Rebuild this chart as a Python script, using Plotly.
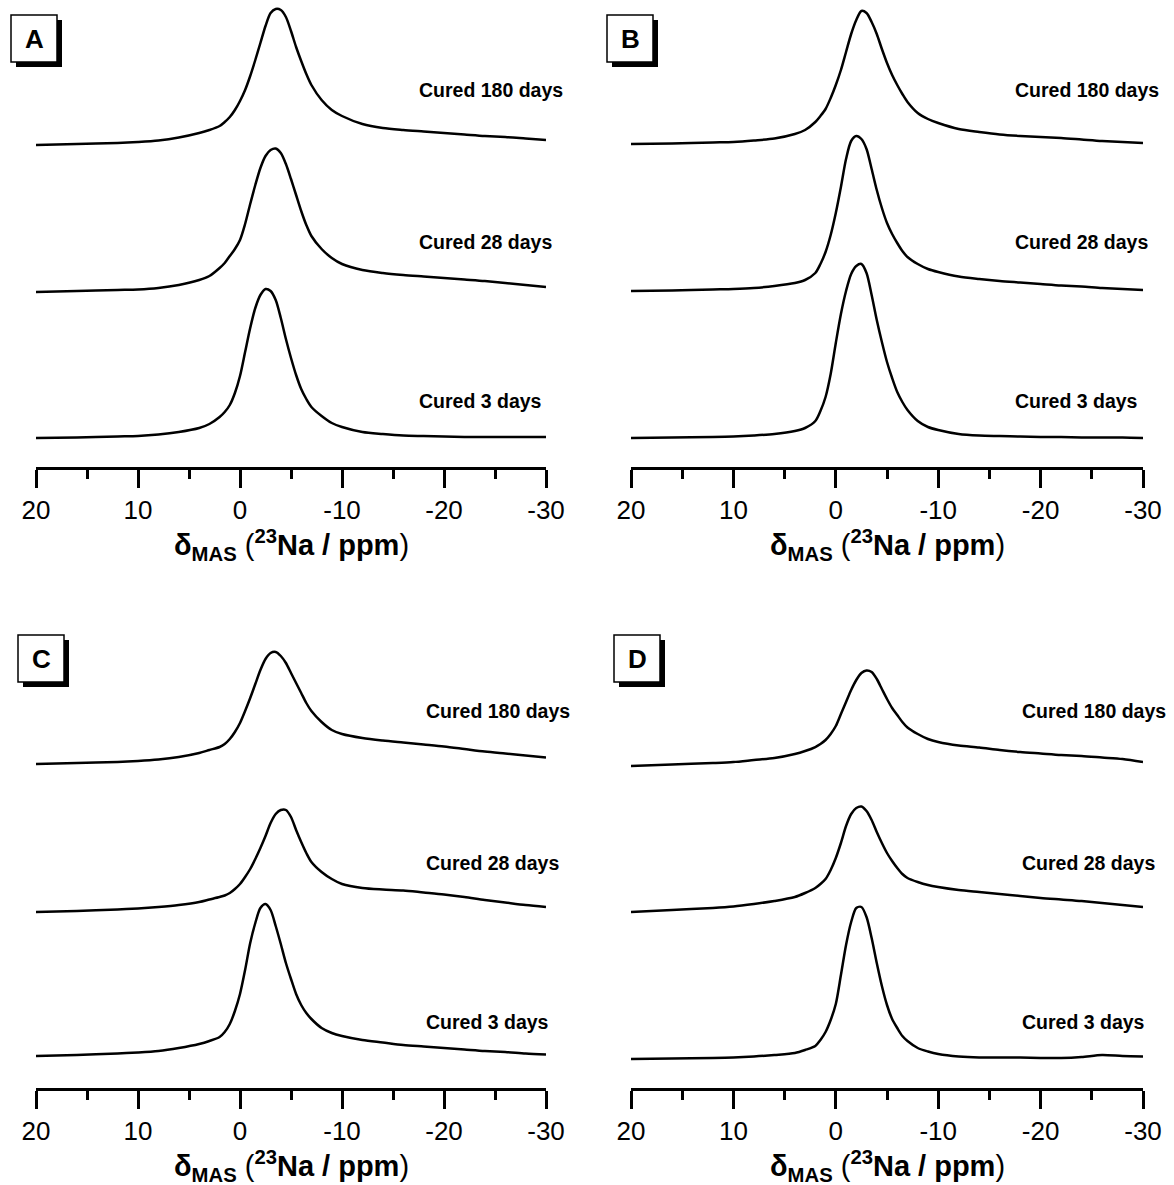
import plotly.graph_objects as go

# ---------------- data ----------------
PPM = [20, 16, 12, 10, 8, 6, 4, 3, 2, 1.5, 1, 0.5, 0, -0.5, -1, -1.5, -2, -2.5, -3, -3.5, -4,
       -4.5, -5, -5.5, -6, -6.5, -7, -8, -9, -10, -12, -14, -16, -18, -20, -22,
       -24, -26, -28, -30]

A_180 = [0, 1, 2, 3, 4.5, 7.5, 12, 15, 19, 23, 28, 35, 44, 55, 69, 85, 102, 119, 132, 136, 135,
         128, 114, 98, 84, 71, 60, 45, 35, 29, 21, 17, 15, 13.5, 12, 10.5, 9, 8, 6.5, 5]
A_28 = [0, 1, 2, 2.5, 4, 7, 12, 16, 24, 29, 36, 43, 52, 68, 88, 107, 124, 136, 142, 143.5, 139,
        128, 113, 97, 81, 67, 56, 43, 34, 28, 22, 19, 17, 15.5, 14, 12.5, 11, 9, 7, 5]
A_3 = [0, 0.5, 1.5, 2, 3.5, 6, 10, 14, 21, 26, 33, 45, 62, 86, 110, 130, 143, 149, 147, 138, 120,
       99, 80, 63, 49, 39, 31, 22, 15, 11, 6, 4, 2.5, 2, 1.5, 1, 1, 1, 1, 1]

B_180 = [0, 0.5, 1.5, 2, 3.5, 5.5, 10, 14, 22, 28, 35, 46, 59, 74, 92, 110, 124, 133, 131, 122, 110,
         95, 81, 69, 59, 50, 42, 31, 25, 21, 15, 12, 9.5, 8, 7, 6, 4.5, 3, 2, 1]
B_28 = [0, 0.5, 1.5, 2, 3, 5, 8, 11, 18, 27, 39, 56, 78, 104, 132, 150, 155, 152, 142, 122, 101,
        83, 68, 57, 48, 40, 34, 27, 22, 19, 14.5, 12, 10, 8.5, 7, 5.5, 4.5, 3, 2, 1]
B_3 = [0, 0.5, 1, 1.5, 2.5, 4, 7, 10, 17, 27, 41, 64, 95, 124, 147, 164, 172, 174, 165, 143, 118,
       96, 76, 60, 46, 36, 28, 17, 11, 8, 4, 2.5, 2, 1.5, 1, 1, 0.5, 0.5, 0.5, 0]

C_180 = [0, 1, 2, 3, 4.5, 7, 11, 14, 17, 20, 25, 32, 41, 53, 66, 80, 94, 105, 111, 112, 108,
         101, 91, 81, 71, 61, 53, 42, 34, 30, 26, 23.5, 21.5, 19.5, 17.5, 15, 12.5, 10.5, 8.5, 6.5]
C_28 = [0, 1, 2.5, 3.5, 5, 7, 10, 12.5, 15, 16.5, 19, 23, 28, 35, 43, 53, 64, 76, 89, 98, 102,
        102, 95, 82, 70, 59, 50, 40, 33, 28, 24, 22.5, 21.5, 19.5, 17.5, 15, 12, 9.5, 7, 5]
C_3 = [0, 1, 2.5, 3.5, 5, 8, 12, 15, 19, 24, 32, 45, 62, 86, 113, 133, 148, 152, 146, 130, 112,
       93, 77, 62, 51, 43, 37, 28, 23, 20, 16, 13.5, 11, 9.5, 8, 6.5, 5, 4, 2.5, 1.5]

D_180 = [0, 1.5, 3, 4, 6, 8, 12, 15, 19, 22, 26, 32, 40, 52, 64, 76, 86, 93, 95.5, 94, 87,
         77, 67, 58, 51, 44, 38.5, 32, 27, 24, 20.5, 18.5, 16, 14, 12.5, 11, 10, 8.5, 7, 4]
D_28 = [0, 2, 4, 5.5, 8, 11, 15, 19, 24, 28, 33, 42, 54, 69, 86, 98, 104, 105.5, 101, 92, 80,
        69, 59, 51, 44, 38, 34, 30, 27, 25, 22, 20, 18, 16, 14, 12.5, 11, 9, 7, 5]
D_3 = [0, 0.5, 1, 1.5, 2.5, 4, 6, 9, 13, 19, 27, 39, 55, 84, 114, 137, 151, 152, 142, 121, 96,
       73, 54, 40, 31, 23, 18, 11, 7.5, 5, 2.5, 1.5, 1.5, 1.5, 1, 1, 2, 4, 3, 2.5]

SERIES_NAMES = ["Cured 180 days", "Cured 28 days", "Cured 3 days"]
PANEL_LETTERS = ["A", "B", "C", "D"]
TICK_VALS = [20, 10, 0, -10, -20, -30]
TICK_TEXT = ["20", "10", "0", "-10", "-20", "-30"]
MINOR_VALS = [15, 5, -5, -15, -25]

PANEL_DATA = [[A_180, A_28, A_3], [B_180, B_28, B_3], [C_180, C_28, C_3], [D_180, D_28, D_3]]

# ---------------- layout geometry (pixels) ----------------
W, H = 1174, 1185
AX_X = [(36, 546), (631, 1143), (36, 546), (631, 1143)]   # x of 20 ppm and -30 ppm
AX_Y = [467, 467, 1088, 1088]                              # y of the axis line
PANEL_H = 467
OFFSETS = [[322, 175, 29], [323, 176, 29], [324, 176, 32], [322, 176, 29]]
LABEL_X = [417, 1013, 424, 1020]
LABEL_DY = [-377, -225, -66]   # label y relative to axis line
BOX = [(11, 15), (607, 15), (18, 635), (614, 635)]
BOX_W, BOX_H = 46, 47

FONT = "Liberation Sans, Arial, sans-serif"

def px(x):
    return x / W

def py(y):
    return 1 - y / H

fig = go.Figure()
shapes = []
annotations = []

for i in range(4):
    sfx = "" if i == 0 else str(i + 1)
    xa, ya = "x" + sfx, "y" + sfx
    for k, spec in enumerate(PANEL_DATA[i]):
        fig.add_trace(go.Scatter(
            x=PPM, y=[v + OFFSETS[i][k] for v in spec], mode="lines",
            line=dict(color="black", width=2.5, shape="spline", smoothing=0.8),
            xaxis=xa, yaxis=ya, showlegend=False, hoverinfo="skip", cliponaxis=False))
    x0, x1 = AX_X[i]
    yb = AX_Y[i]
    fig.layout["xaxis" + sfx] = dict(
        domain=[px(x0), px(x1)], range=[20, -30], anchor=ya, automargin=False,
        showline=True, linecolor="black", linewidth=3,
        ticks="outside", ticklen=18, tickwidth=3, tickcolor="black",
        tickmode="array", tickvals=TICK_VALS, ticktext=TICK_TEXT,
        tickfont=dict(family=FONT, size=26, color="black"),
        minor=dict(ticks="outside", ticklen=9, tickwidth=3, tickcolor="black",
                   tickmode="array", tickvals=MINOR_VALS, showgrid=False),
        showgrid=False, zeroline=False, fixedrange=True)
    fig.layout["yaxis" + sfx] = dict(
        domain=[py(yb), py(yb - PANEL_H)], range=[0, PANEL_H], anchor=xa,
        automargin=False, visible=False, fixedrange=True)

    # axis title
    annotations.append(dict(
        x=px((x0 + x1) / 2), y=py(yb + 78), xref="paper", yref="paper",
        xanchor="center", yanchor="middle", showarrow=False,
        text="<b>δ<sub>MAS</sub></b> (<b><sup>23</sup>Na / ppm</b>)",
        font=dict(family=FONT, size=29, color="black")))

    # series labels
    for k, name in enumerate(SERIES_NAMES):
        annotations.append(dict(
            x=px(LABEL_X[i]), y=py(yb + LABEL_DY[k]), xref="paper", yref="paper",
            xanchor="left", yanchor="middle", showarrow=False,
            text="<b>" + name + "</b>",
            font=dict(family=FONT, size=19.5, color="black")))

    # panel letter box with shadow
    bx, by = BOX[i]
    shapes.append(dict(type="rect", xref="paper", yref="paper",
                       x0=px(bx + 5), x1=px(bx + BOX_W + 5), y0=py(by + 5), y1=py(by + BOX_H + 5),
                       fillcolor="black", line=dict(width=0)))
    shapes.append(dict(type="rect", xref="paper", yref="paper",
                       x0=px(bx), x1=px(bx + BOX_W), y0=py(by), y1=py(by + BOX_H),
                       fillcolor="white", line=dict(color="black", width=1.5)))
    annotations.append(dict(
        x=px(bx + BOX_W / 2), y=py(by + BOX_H / 2), xref="paper", yref="paper",
        xanchor="center", yanchor="middle", showarrow=False,
        text="<b>" + PANEL_LETTERS[i] + "</b>",
        font=dict(family=FONT, size=26, color="black")))

fig.update_layout(
    template="none",
    width=W, height=H, margin=dict(l=0, r=0, t=0, b=0, pad=0, autoexpand=False),
    paper_bgcolor="white", plot_bgcolor="white",
    shapes=shapes, annotations=annotations, showlegend=False)

fig.write_html(
    "out.html",
    config={"displayModeBar": False, "staticPlot": True},
    post_script="document.body.style.margin='0';document.body.style.padding='0';"
                "document.body.style.overflow='hidden';")
